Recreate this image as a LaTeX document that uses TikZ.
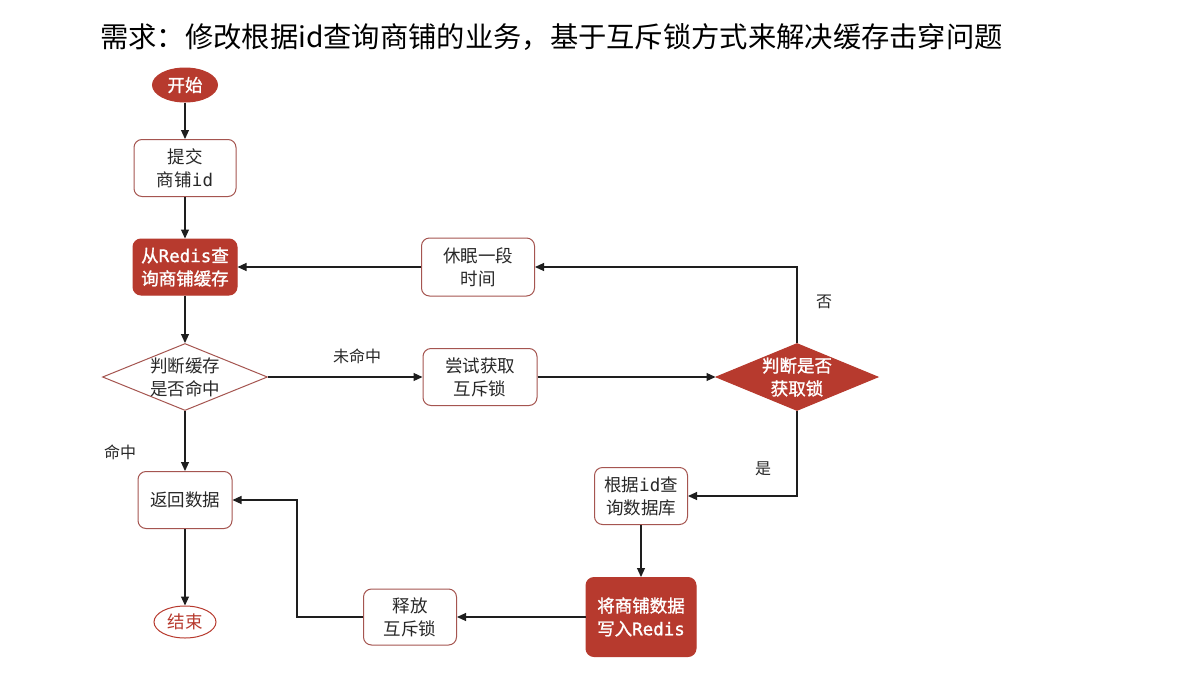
\documentclass[tikz,border=0pt]{standalone}
\usepackage{fontspec}
\setmainfont{Noto Sans CJK SC}
\newfontfamily\monof{DejaVu Sans Mono}
\newfontfamily\boldf[FakeBold=1.3]{Noto Sans CJK SC}
\newfontfamily\boldmonof[FakeBold=1.3]{DejaVu Sans Mono}
\usetikzlibrary{shapes.geometric,arrows.meta}
\definecolor{redfill}{RGB}{183,58,46}
\definecolor{boxline}{RGB}{165,85,80}
\definecolor{linec}{RGB}{30,30,30}
\definecolor{txt}{RGB}{40,40,40}
\tikzset{
  base/.style={inner sep=0pt, align=center, font=\fontsize{17.5}{23}\selectfont, text=txt},
  wbox/.style={base, rectangle, rounded corners=8pt, draw=boxline, line width=1pt, fill=white},
  rbox/.style={base, rectangle, rounded corners=8pt, draw=redfill, line width=1pt, fill=redfill, text=white, font=\fontsize{17.5}{23}\boldf},
  term/.style={base, ellipse, line width=1pt},
  dia/.style={diamond, inner sep=0pt, line width=1pt},
  lbl/.style={font=\fontsize{16}{20}\selectfont, text=txt, inner sep=0pt},
  arr/.style={draw=linec, line width=1.1pt, -{Triangle[length=9pt,width=8pt]}},
}
\begin{document}
\begin{tikzpicture}[x=1pt,y=-1pt]
\useasboundingbox[fill=white] (0,0) rectangle (1189,675);
\node[anchor=west, inner sep=0pt, font=\fontsize{28.3}{34}\selectfont, text=black] (title) at (100,37) {需求：修改根据id查询商铺的业务，基于互斥锁方式来解决缓存击穿问题};

\node[term, fill=redfill, draw=redfill, text=white, minimum width=65pt, minimum height=34pt, font=\fontsize{17.5}{23}\boldf] (start) at (185,85) {开始};
\node[wbox, minimum width=102pt, minimum height=57pt] (submit) at (185,168) {提交\\商铺{\monof id}};
\node[rbox, minimum width=104pt, minimum height=56pt] (redis) at (185,267) {从{\boldmonof Redis}查\\询商铺缓存};
\node[dia, draw=boxline, fill=white, minimum width=165pt, minimum height=67pt] (hit) at (185,377) {};
\node[base] (hittext) at (hit) {判断缓存\\是否命中};
\node[wbox, minimum width=94pt, minimum height=57pt] (ret) at (185,500) {返回数据};
\node[term, draw=redfill, fill=white, text=redfill, minimum width=62pt, minimum height=32pt] (end) at (185,622) {结束};

\node[wbox, minimum width=114pt, minimum height=57pt] (try) at (480,377) {尝试获取\\互斥锁};
\node[dia, draw=redfill, fill=redfill, minimum width=162pt, minimum height=67pt] (lock) at (797,377) {};
\node[base, text=white, font=\fontsize{17.5}{23}\boldf] (locktext) at (lock) {判断是否\\获取锁};
\node[wbox, minimum width=113pt, minimum height=58pt] (sleep) at (478,267) {休眠一段\\时间};
\node[wbox, minimum width=93pt, minimum height=57pt] (db) at (641,496) {根据{\monof id}查\\询数据库};
\node[rbox, minimum width=110pt, minimum height=79pt] (write) at (641,617) {将商铺数据\\写入{\boldmonof Redis}};
\node[wbox, minimum width=93pt, minimum height=56pt] (release) at (410,617) {释放\\互斥锁};

\node[lbl] (lmiss) at (357,356) {未命中};
\node[lbl] (lhit) at (120,452) {命中};
\node[lbl] (lno) at (824,302) {否};
\node[lbl] (lyes) at (763,469) {是};

\coordinate (c1) at (297,617);

\draw[arr] (start) -- (submit);
\draw[arr] (submit) -- (redis);
\draw[arr] (redis) -- (hit.north);
\draw[arr] (hit.south) -- (ret);
\draw[arr] (ret) -- (end);
\draw[arr] (hit.east) -- (try.west);
\draw[arr] (try.east) -- (lock.west);
\draw[arr] (lock.north) |- (sleep.east);
\draw[arr] (sleep.west) -- (redis.east);
\draw[arr] (lock.south) |- (db.east);
\draw[arr] (db.south) -- (write.north);
\draw[arr] (write.west) -- (release.east);
\draw[arr] (release.west) -- (c1) |- (ret.east);
\end{tikzpicture}
\end{document}
